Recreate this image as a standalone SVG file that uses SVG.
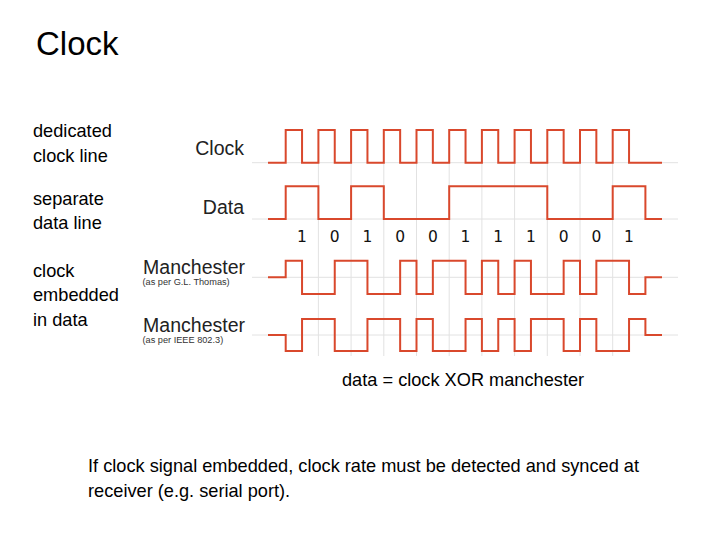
<svg xmlns="http://www.w3.org/2000/svg" width="720" height="540" viewBox="0 0 720 540">
<style>
.title{font-family:"Liberation Sans",Arial,sans-serif;font-size:33px;fill:#000}
.body{font-family:"Liberation Sans",Arial,sans-serif;font-size:18.2px;fill:#000}
.lbl{font-family:"Liberation Sans",Arial,sans-serif;font-size:19.5px;fill:#222;text-anchor:end}
.sub{font-family:"Liberation Sans",Arial,sans-serif;font-size:9.2px;fill:#333}
.bit{font-family:"DejaVu Sans",sans-serif;font-size:15.5px;fill:#111;text-anchor:middle}
.grid{stroke:#e2e2e2;stroke-width:1;fill:none}
.sig{stroke:#d9482c;stroke-width:2;fill:none;stroke-linejoin:miter}
</style>
<rect width="720" height="540" fill="#fff"/>
<text class="title" x="36" y="55">Clock</text>
<g id="notes">
<text class="body" x="33" y="137">dedicated</text>
<text class="body" x="33" y="161.5">clock line</text>
<text class="body" x="33" y="205">separate</text>
<text class="body" x="33" y="229">data line</text>
<text class="body" x="33" y="277">clock</text>
<text class="body" x="33" y="301">embedded</text>
<text class="body" x="33" y="325.5">in data</text>
<text class="body" x="342" y="386" font-size="17.4">data = clock XOR manchester</text>
<text class="body" x="88" y="472">If clock signal embedded, clock rate must be detected and synced at</text>
<text class="body" x="88" y="497">receiver (e.g. serial port).</text>
</g>
<g id="grid">
<path class="grid" d="M252,162.7H678M252,219H678M252,277.3H678M252,335H678"/>
<path class="grid" d="M318.4,162.7V356M351.1,162.7V356M383.8,162.7V356M416.5,162.7V356M449.2,162.7V356M481.9,162.7V356M514.6,162.7V356M547.3,162.7V356M580,162.7V356M612.7,162.7V356"/>
</g>
<g id="clock">
<text class="lbl" x="244" y="155">Clock</text>
<path class="sig" d="M268,162.7H285.7V130H302.05V162.7H318.4V130H334.75V162.7H351.1V130H367.45V162.7H383.8V130H400.15V162.7H416.5V130H432.85V162.7H449.2V130H465.55V162.7H481.9V130H498.25V162.7H514.6V130H530.95V162.7H547.3V130H563.65V162.7H580V130H596.35V162.7H612.7V130H629.05V162.7H662"/>
</g>
<g id="data">
<text class="lbl" x="244" y="213.5">Data</text>
<path class="sig" d="M268,219H285.7V186.3H318.4V219H351.1V186.3H383.8V219H449.2V186.3H547.3V219H612.7V186.3H645.4V219H662"/>
</g>
<g id="bits">
<text class="bit" x="302" y="242">1</text>
<text class="bit" x="334.75" y="242">0</text>
<text class="bit" x="367.45" y="242">1</text>
<text class="bit" x="400.15" y="242">0</text>
<text class="bit" x="432.85" y="242">0</text>
<text class="bit" x="465.55" y="242">1</text>
<text class="bit" x="498.25" y="242">1</text>
<text class="bit" x="530.95" y="242">1</text>
<text class="bit" x="563.65" y="242">0</text>
<text class="bit" x="596.35" y="242">0</text>
<text class="bit" x="629.05" y="242">1</text>
</g>
<g id="manchester-thomas">
<text class="lbl" x="245" y="273.5">Manchester</text>
<text class="sub" x="142.5" y="285">(as per G.L. Thomas)</text>
<path class="sig" d="M268,277.3H285.7V260.7H302.05V294H334.75V260.7H367.45V294H400.15V260.7H416.5V294H432.85V260.7H465.55V294H481.9V260.7H498.25V294H514.6V260.7H530.95V294H563.65V260.7H580V294H596.35V260.7H629.05V294H645.4V277.3H662"/>
</g>
<g id="manchester-ieee">
<text class="lbl" x="245" y="331.5">Manchester</text>
<text class="sub" x="142.5" y="342.5">(as per IEEE 802.3)</text>
<path class="sig" d="M268,335H285.7V351H302.05V319H334.75V351H367.45V319H400.15V351H416.5V319H432.85V351H465.55V319H481.9V351H498.25V319H514.6V351H530.95V319H563.65V351H580V319H596.35V351H629.05V319H645.4V335H662"/>
</g>
</svg>
